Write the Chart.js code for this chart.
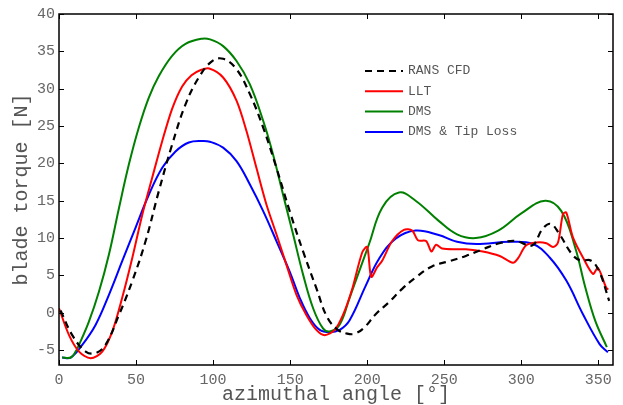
<!DOCTYPE html>
<html>
<head>
<meta charset="utf-8">
<script src="https://cdn.jsdelivr.net/npm/chart.js@4"></script>
<style>
  body { margin: 0; background: #fff; }
  #wrap { width: 623px; height: 405px; }
</style>
</head>
<body>
<div id="wrap"><canvas id="torqueChart" width="623" height="405"></canvas></div>
<script>

// DATA

const xTicks = [0, 50, 100, 150, 200, 250, 300, 350];
const yTicks = [-5, 0, 5, 10, 15, 20, 25, 30, 35, 40];

const seriesNames = ["RANS CFD", "LLT", "DMS", "DMS & Tip Loss"];

const ransAngle  = [1, 8.6, 17.3, 23.8, 30.2, 38.9, 47.5, 56.2, 64.8, 73.4, 82.1, 90.7, 99.4, 106.5, 115.2, 123.8, 132.5, 141.1, 149.7, 158.4, 167, 174, 181, 187, 192, 198, 205.5, 214.1, 222.7, 231.4, 242, 253.3, 264, 275, 285.7, 296.5, 307, 313.7, 319, 324.5, 333, 338.5, 345, 350.4, 357];
const ransTorque = [0.3, -3.0, -5.2, -5.4, -4.3, -0.3, 4.2, 9.6, 16.3, 22.5, 27.9, 31.5, 33.7, 34.0, 32.6, 29.3, 24.8, 19.4, 13.6, 8.2, 3.3, -0.6, -2.3, -2.8, -2.8, -2.0, -0.2, 1.4, 3.2, 4.7, 6.2, 6.9, 7.6, 8.5, 9.3, 9.6, 9.0, 11.2, 11.9, 10.6, 7.8, 7.0, 7.0, 5.6, 1.6];

const lltAngle  = [0, 6.5, 13, 20.5, 28.1, 34.6, 41, 47.5, 54, 60.5, 67, 73.4, 79.9, 86, 92, 97.5, 106.5, 115.2, 121.7, 128.1, 134.6, 141.1, 147.6, 154.1, 160.5, 167, 172.4, 178.9, 184.3, 190, 196.8, 200, 202.6, 206.5, 209.8, 216.2, 223.8, 229.2, 232.9, 238.2, 241.7, 244.7, 248.6, 258.3, 264, 275, 286, 294.6, 297.9, 303, 309.8, 316.3, 320.6, 323.8, 327, 329.2, 333.5, 340, 346.5, 349.7, 355, 356.5];
const lltTorque = [0.6, -3.0, -5.2, -6.1, -5.2, -2.5, 2.0, 7.3, 13.1, 18.1, 23.0, 27.3, 30.3, 31.8, 32.5, 32.7, 31.5, 28.4, 24.3, 19.4, 14.5, 10.5, 6.4, 2.4, -0.3, -2.3, -3.0, -2.3, -0.3, 3.0, 8.1, 8.8, 4.8, 6.1, 7.0, 9.6, 11.1, 11.0, 9.7, 9.6, 8.2, 9.1, 8.6, 8.5, 8.5, 8.2, 7.6, 6.7, 7.3, 9.0, 9.4, 9.3, 8.8, 9.4, 13.2, 13.4, 10.1, 7.4, 5.2, 6.0, 3.4, 3.1];

const dmsAngle  = [2, 7.6, 10.8, 13, 19.4, 25.9, 32.4, 38.9, 45.4, 51.8, 58.3, 64.8, 73.4, 82.1, 92.9, 98, 106.5, 115.2, 123.8, 132.5, 138.9, 145.4, 151.9, 158.4, 164.9, 171.3, 175.7, 182.1, 188.6, 192.6, 201.2, 209.8, 220.6, 231.4, 246.4, 258.3, 270.5, 285, 300, 315.5, 326, 335, 341.5, 348, 355.5];
const dmsTorque = [-6.0, -6.0, -5.2, -4.3, -1.2, 2.8, 7.8, 14.0, 19.9, 24.8, 28.8, 31.7, 34.4, 36.0, 36.7, 36.6, 35.7, 33.7, 30.6, 25.7, 21.2, 15.8, 10.5, 5.1, 0.6, -2.1, -2.5, -1.6, 2.0, 4.3, 9.2, 14.1, 16.1, 15.0, 12.3, 10.5, 10.0, 11.0, 13.3, 15.0, 13.6, 8.7, 3.4, -1.1, -4.6];

const tipAngle  = [2, 7.6, 15.1, 23.8, 32.4, 41, 49.7, 58.3, 67, 75.6, 84.2, 93, 97.9, 106.5, 115.2, 123.8, 132.5, 141.1, 149.7, 156.2, 162.7, 169.2, 175.7, 182.1, 188.6, 199, 207.6, 218.4, 231.4, 246.4, 258.3, 270.9, 292.5, 307.6, 318.4, 329.2, 340, 350.8, 356.2];
const tipTorque = [-6.0, -6.0, -4.3, -1.6, 2.4, 6.9, 11.4, 15.8, 19.4, 21.6, 22.8, 23.0, 22.9, 22.1, 20.3, 17.2, 13.6, 9.6, 5.5, 2.0, -0.7, -2.3, -2.6, -2.3, -1.0, 3.6, 7.2, 9.9, 11.0, 10.4, 9.5, 9.2, 9.5, 9.2, 7.4, 4.3, -0.2, -4.2, -5.3];

const monoFont = "'Liberation Mono', 'DejaVu Sans Mono', monospace";

function toPoints(xs, ys) {
  return xs.map((x, i) => ({ x: x, y: ys[i] }));
}


// BORDER, INWARD TICKS AND LEGEND

const framePlugin = {
  id: "frame",
  afterDatasetsDraw(chart) {
    const ctx = chart.ctx;
    const a = chart.chartArea;
    const xs = chart.scales.x;
    const ys = chart.scales.y;
    const tl = 5;

    ctx.save();
    ctx.strokeStyle = "#000";
    ctx.lineWidth = 1.5;
    ctx.strokeRect(a.left, a.top, a.right - a.left, a.bottom - a.top);

    ctx.lineWidth = 1;
    ctx.beginPath();
    xTicks.forEach(v => {
      const px = Math.round(xs.getPixelForValue(v)) + 0.5;
      ctx.moveTo(px, a.bottom); ctx.lineTo(px, a.bottom - tl);
      ctx.moveTo(px, a.top); ctx.lineTo(px, a.top + tl);
    });
    yTicks.forEach(v => {
      const py = Math.round(ys.getPixelForValue(v)) + 0.5;
      ctx.moveTo(a.left, py); ctx.lineTo(a.left + tl, py);
      ctx.moveTo(a.right, py); ctx.lineTo(a.right - tl, py);
    });
    ctx.stroke();

    // legend inside the plot
    const lx = 365, tx = 408;
    let ly = 71;
    ctx.font = "13px " + monoFont;
    ctx.textBaseline = "middle";
    ctx.textAlign = "left";
    chart.data.datasets.forEach(ds => {
      ctx.strokeStyle = ds.borderColor;
      ctx.lineWidth = ds.borderWidth;
      ctx.setLineDash(ds.borderDash || []);
      ctx.beginPath();
      ctx.moveTo(lx, ly); ctx.lineTo(lx + 38, ly);
      ctx.stroke();
      ctx.setLineDash([]);
      ctx.fillStyle = "#555";
      ctx.fillText(ds.label, tx, ly);
      ly += 20.3;
    });
    ctx.restore();
  }
};


// CHART

new Chart(document.getElementById("torqueChart"), {
  type: "scatter",
  data: {
    datasets: [
      {
        label: seriesNames[0],
        data: toPoints(ransAngle, ransTorque),
        borderColor: "#000000",
        borderWidth: 2.2,
        borderDash: [7, 5],
        tension: 0.4
      },
      {
        label: seriesNames[1],
        data: toPoints(lltAngle, lltTorque),
        borderColor: "#ff0000",
        borderWidth: 2,
        tension: 0.3
      },
      {
        label: seriesNames[2],
        data: toPoints(dmsAngle, dmsTorque),
        borderColor: "#008000",
        borderWidth: 2,
        tension: 0.4
      },
      {
        label: seriesNames[3],
        data: toPoints(tipAngle, tipTorque),
        borderColor: "#0000ff",
        borderWidth: 2,
        tension: 0.4
      }
    ]
  },
  options: {
    responsive: false,
    animation: false,
    showLine: true,
    layout: { padding: { top: 14, right: 10, left: 0, bottom: 0 } },
    elements: {
      point: { radius: 0, hoverRadius: 0 },
      line: { fill: false }
    },
    plugins: {
      legend: { display: false },
      tooltip: { enabled: false }
    },
    scales: {
      x: {
        type: "linear",
        min: 0,
        max: 359.5,
        grid: { display: false, drawTicks: false },
        border: { display: false },
        afterBuildTicks: s => { s.ticks = xTicks.map(v => ({ value: v })); },
        afterFit: s => { s.height = 40; },
        ticks: {
          padding: 6,
          color: "#666",
          font: { family: monoFont, size: 15 },
          maxRotation: 0
        },
        title: {
          display: true,
          text: "azimuthal angle [°]",
          color: "#555",
          font: { family: monoFont, size: 20, lineHeight: 1 },
          padding: { top: 0, bottom: 0 }
        }
      },
      y: {
        type: "linear",
        min: -7,
        max: 40,
        grid: { display: false, drawTicks: false },
        border: { display: false },
        afterBuildTicks: s => { s.ticks = yTicks.map(v => ({ value: v })); },
        afterFit: s => { s.width = 59; },
        ticks: {
          padding: 4,
          color: "#666",
          font: { family: monoFont, size: 15 }
        },
        title: {
          display: true,
          text: "blade torque [N]",
          color: "#555",
          font: { family: monoFont, size: 20, lineHeight: 1 },
          padding: { top: 12, bottom: 0 }
        }
      }
    }
  },
  plugins: [framePlugin]
});

</script>
</body>
</html>
